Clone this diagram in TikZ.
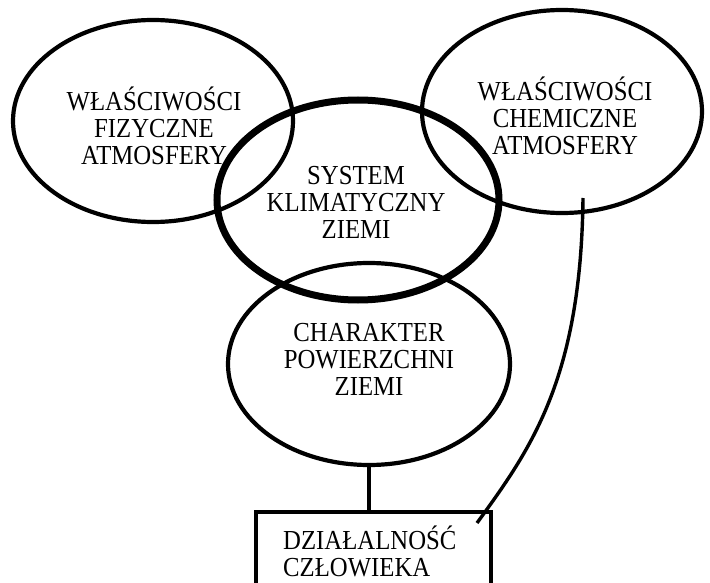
\documentclass[tikz,border=0pt]{standalone}
\usepackage{fontspec}
\setmainfont{Liberation Serif}[FakeStretch=0.9]
\usetikzlibrary{shapes.geometric}
\tikzset{
  circ/.style={draw=black, ellipse, line width=4.2pt, inner sep=0pt},
  thickcirc/.style={circ, line width=7pt},
  lbl/.style={align=center, font=\fontsize{27.5}{27}\selectfont, inner sep=0pt},
  boxnode/.style={draw=black, line width=4pt, minimum width=235pt, minimum height=84pt, inner sep=0pt},
  conn/.style={line width=3.4pt}
}
\begin{document}
\begin{tikzpicture}[x=1pt,y=-1pt]
\useasboundingbox (0,0) rectangle (710,583);
\clip (0,0) rectangle (710,583);
\fill[white] (0,0) rectangle (710,583);
\node[circ, minimum width=280pt, minimum height=202pt] (fiz) at (153,121) {};
\node[circ, minimum width=280pt, minimum height=203pt] (chem) at (562,111.5) {};
\node[circ, minimum width=282pt, minimum height=202pt] (char) at (369,364) {};
\node[thickcirc, minimum width=282pt, minimum height=200pt] (sys) at (358,200) {};
\node[lbl] (tfiz) at (154,126) {WŁAŚCIWOŚCI\\FIZYCZNE\\ATMOSFERY};
\node[lbl] (tchem) at (565,116) {WŁAŚCIWOŚCI\\CHEMICZNE\\ATMOSFERY};
\node[lbl] (tsys) at (356,202) {SYSTEM\\KLIMATYCZNY\\ZIEMI};
\node[lbl] (tchar) at (369,359) {CHARAKTER\\POWIERZCHNI\\ZIEMI};
\node[boxnode, anchor=north west] (box) at (254,510) {};
\node[lbl, align=left, anchor=north west] (tbox) at (283,526) {DZIAŁALNOŚĆ\\CZŁOWIEKA};
\coordinate (cs) at (583,198);
\coordinate (ce) at (477,523);
\draw[conn] (char.south) -- (char.south |- box.north);
\draw[conn] (cs) .. controls (581,380) and (530,450) .. (ce);
\end{tikzpicture}
\end{document}
